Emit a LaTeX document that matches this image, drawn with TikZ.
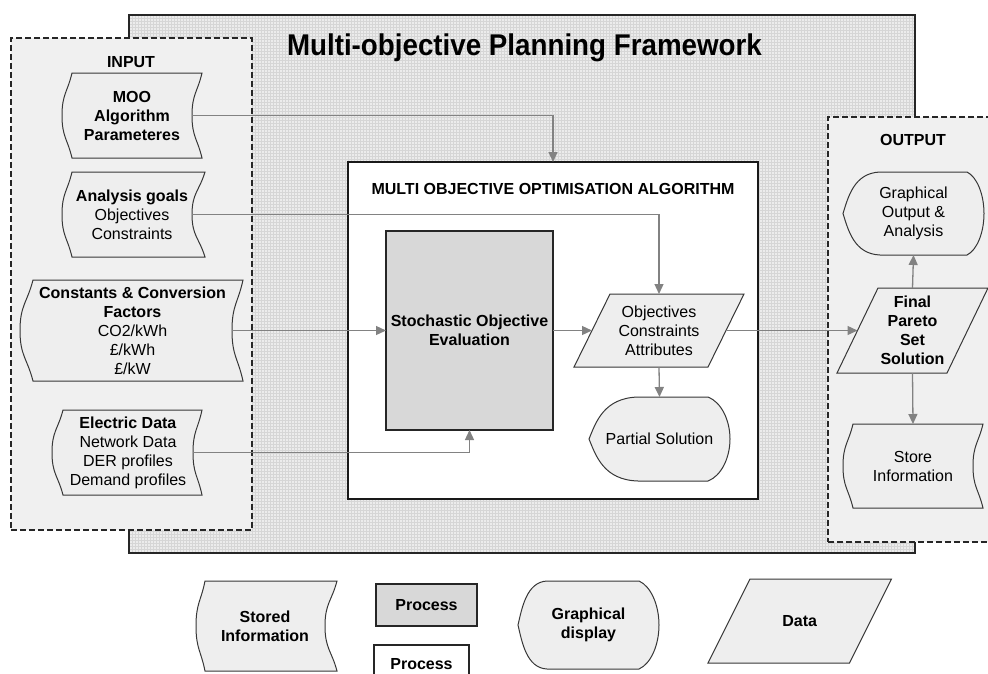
\documentclass[tikz,border=0pt]{standalone}
\usepackage{fontspec}
\setmainfont{Liberation Sans}
\usepackage{graphicx}
\usetikzlibrary{arrows.meta,calc}
\pgfdeclarelayer{back}
\pgfdeclarelayer{shapes}
\pgfsetlayers{back,shapes,main}

\definecolor{panelfill}{RGB}{240,240,240}
\definecolor{framefill}{RGB}{236,236,236}
\definecolor{gridc}{RGB}{214,214,214}
\definecolor{shapefill}{RGB}{238,238,238}
\definecolor{procfill}{RGB}{216,216,216}
\definecolor{connc}{RGB}{130,130,130}
\definecolor{outl}{RGB}{55,55,55}

\tikzset{
  every node/.style={inner sep=0pt, outer sep=0pt},
  txt/.style={font=\fontsize{16}{19}\selectfont, align=center},
  btxt/.style={font=\fontsize{16}{19}\selectfont\bfseries, align=center},
  sized/.style 2 args={minimum width=#1pt, minimum height=#2pt},
  framebox/.style={fill=framefill},
  frameline/.style={draw=black!85, line width=1.4pt},
  gridline/.style={draw=gridc, line width=0.5pt},
  panel/.style={draw=black!85, line width=1.3pt, dash pattern=on 6pt off 3pt, fill=panelfill},
  algbox/.style={draw=black!90, line width=1.6pt, fill=white},
  procbox/.style={draw=black!85, line width=1.4pt, fill=procfill},
  whitebox/.style={draw=black!85, line width=1.4pt, fill=white},
  shapeline/.style={draw=outl, line width=1pt, fill=shapefill},
  conn/.style={draw=connc, line width=1.3pt, -{Triangle[length=10pt,width=9pt]}},
}

% stored-data shape: node spans left corners .. inner right point
\newcommand\storedshape[3]{%
  \begin{pgfonlayer}{shapes}
  \draw[shapeline] (#1.north west) -- ($(#1.north east)+(#3,0)$)
    .. controls ($(#1.north east)!0.45!(#1.east)+(#3*0.55,0)$) and ($(#1.north east)!0.5!(#1.east)$) .. (#1.east)
    .. controls ($(#1.south east)!0.5!(#1.east)$) and ($(#1.south east)!0.45!(#1.east)+(#3*0.55,0)$) .. ($(#1.south east)+(#3,0)$)
    -- (#1.south west)
    .. controls ($(#1.south west)!0.45!(#1.west)+(-#2*0.45,0)$) and ($(#1.south west)!0.5!(#1.west)+(-#2,0)$) .. ($(#1.west)+(-#2,0)$)
    .. controls ($(#1.north west)!0.5!(#1.west)+(-#2,0)$) and ($(#1.north west)!0.45!(#1.west)+(-#2*0.45,0)$) .. (#1.north west)
    -- cycle;
  \end{pgfonlayer}}

% display shape: node spans full box; #2 = left flat inset, #3 = right flat inset
\newcommand\dispshape[3]{%
  \begin{pgfonlayer}{shapes}
  \draw[shapeline] ($(#1.north west)+(#2,0)$) -- ($(#1.north east)+(-#3,0)$)
    .. controls ($(#1.north east)!0.12!(#1.east)+(-#3*0.4,0)$) and ($(#1.north east)!0.55!(#1.east)$) .. (#1.east)
    .. controls ($(#1.south east)!0.55!(#1.east)$) and ($(#1.south east)!0.12!(#1.east)+(-#3*0.4,0)$) .. ($(#1.south east)+(-#3,0)$)
    -- ($(#1.south west)+(#2,0)$)
    .. controls ($(#1.south west)+(#2*0.3,-1)$) and ($(#1.west)!0.4!(#1.south west)+(#2*0.14,0)$) .. (#1.west)
    .. controls ($(#1.west)!0.4!(#1.north west)+(#2*0.14,0)$) and ($(#1.north west)+(#2*0.3,1)$) .. ($(#1.north west)+(#2,0)$)
    -- cycle;
  \end{pgfonlayer}}

% parallelogram: node spans mid-left .. mid-right; #2 = slant offset
\newcommand\paralshape[2]{%
  \begin{pgfonlayer}{shapes}
  \draw[shapeline] ($(#1.north west)+(#2/2,0)$) -- ($(#1.north east)+(#2/2,0)$)
    -- ($(#1.south east)+(-#2/2,0)$) -- ($(#1.south west)+(-#2/2,0)$) -- cycle;
  \end{pgfonlayer}}

\begin{document}
\begin{tikzpicture}[x=1pt,y=-1pt]
\useasboundingbox (0,0) rectangle (988,673);

\begin{pgfonlayer}{back}
  \node[framebox, sized={786}{538}] (frame) at (522,284) {};
  \begin{scope}
    \clip (frame.north west) rectangle (frame.south east);
    \draw[gridline, step=3pt] (frame.north west) grid (frame.south east);
  \end{scope}
  \draw[frameline] (frame.north west) rectangle (frame.south east);
  \node[panel, sized={241}{492}] (inpanel) at (131.5,284) {};
  \node[panel, sized={180}{425}] (outpanel) at (918,329.5) {};
  \node[algbox, sized={410}{337}] (alg) at (553,330.5) {};
\end{pgfonlayer}

% titles and labels
\node[anchor=base west, font=\fontsize{30}{36}\selectfont\bfseries] (title) at (287,55)
  {\scalebox{0.925}[1]{Multi-objective Planning Framework}};
\node[btxt] (inlabel) at (131,62) {INPUT};
\node[btxt] (outlabel) at (913,140) {OUTPUT};
\node[btxt] (algtitle) at (553,189) {MULTI OBJECTIVE OPTIMISATION ALGORITHM};

% input shapes
\node[btxt, sized={120}{85}] (moo) at (132,115.5) {MOO\\Algorithm\\Parameteres};
\node[txt, sized={120}{85}] (goals) at (132,214.5) {\textbf{Analysis goals}\\Objectives\\Constraints};
\node[txt, sized={199}{101}] (consts) at (132.5,330.5)
  {\textbf{Constants \& Conversion}\\\textbf{Factors}\\CO2/kWh\\£/kWh\\£/kW};
\node[txt, sized={130}{85}] (elec) at (128,452.5)
  {\textbf{Electric Data}\\Network Data\\DER profiles\\Demand profiles};
\storedshape{moo}{10}{10}
\storedshape{goals}{10}{13}
\storedshape{consts}{13}{11}
\storedshape{elec}{11}{9}

% algorithm internals
\node[btxt, procbox, sized={167}{199}] (stoch) at (469.5,330.5) {Stochastic Objective\\Evaluation};
\node[txt, sized={134}{73}] (obj) at (659,330.5) {Objectives\\Constraints\\Attributes};
\paralshape{obj}{36}
\node[txt, sized={141}{84}] (partial) at (659.5,439) {Partial Solution};
\dispshape{partial}{49}{22}

% output shapes
\node[txt, sized={141}{83}] (graph) at (913.5,213.5) {Graphical\\Output \&\\Analysis};
\dispshape{graph}{37}{17}
\node[btxt, sized={110}{85}] (final) at (912.5,330.5) {Final\\Pareto\\Set\\Solution};
\paralshape{final}{41}
\node[txt, sized={120}{84}] (store) at (913,466) {Store\\Information};
\storedshape{store}{10}{10}

% legend
\node[btxt, sized={120}{90}] (legstore) at (265,626) {Stored\\Information};
\storedshape{legstore}{9}{12}
\node[btxt, procbox, sized={101}{42}] (legproc) at (426.5,605) {Process};
\node[btxt, whitebox, sized={95}{39}] (legproc2) at (421.5,664.5) {Process};
\node[btxt, sized={141}{88}] (legdisp) at (588.5,625) {Graphical\\display};
\dispshape{legdisp}{29}{20}
\node[btxt, sized={141.5}{84}] (legdata) at (799.75,621) {Data};
\paralshape{legdata}{42}

% connectors
\draw[conn] (moo.east) -| (alg.north);
\draw[conn] (goals.east) -| (obj.north);
\draw[conn] (consts.east) -- (stoch.west);
\draw[conn] (elec.east) -| (stoch.south);
\draw[conn] (stoch.east) -- (obj.west);
\draw[conn] (obj.south) -- (partial.north);
\draw[conn] (obj.east) -- (final.west);
\draw[conn] (final.north) -- (graph.south);
\draw[conn] (final.south) -- (store.north);
\end{tikzpicture}
\end{document}
